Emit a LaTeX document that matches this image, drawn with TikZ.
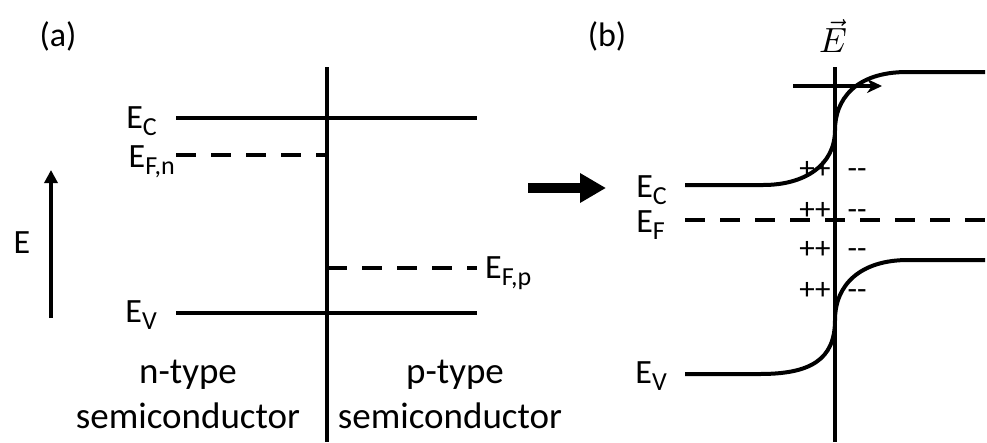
\documentclass[tikz,border=0pt]{standalone}
\usepackage{fontspec}
\setmainfont{Carlito}
\usetikzlibrary{arrows.meta,positioning,calc}
\newcommand{\lowsub}[1]{\raisebox{-0.45ex}{\fontsize{26}{26}\selectfont #1}}

\begin{document}
\begin{tikzpicture}[x=1pt,y=-1pt,
  band/.style={line width=4pt},
  fermi/.style={line width=4pt,dash pattern=on 20pt off 15pt},
  junction/.style={line width=4pt},
  lbl/.style={font=\fontsize{34}{38}\selectfont,inner sep=0pt},
  txt/.style={font=\fontsize{37}{44}\selectfont,inner sep=0pt},
  chg/.style={font=\fontsize{31}{31}\selectfont,inner sep=0pt}]
  \useasboundingbox (0,0) rectangle (987,442);

  % (a) separate n and p
  \node[lbl] (tagA) at (58,36) {(a)};
  \coordinate (jAtop) at (327,67);
  \coordinate (jAbot) at (327,442);
  \draw[junction] (jAtop) -- (jAbot);
  \coordinate (ecAl) at (176,118);
  \coordinate (ecAr) at (477,118);
  \coordinate (evAl) at (176,313);
  \coordinate (evAr) at (477,313);
  \coordinate (efn) at (176,155);
  \coordinate (efp) at (477,268);
  \draw[band] (ecAl) -- (ecAr);
  \draw[band] (evAl) -- (evAr);
  \draw[fermi] (efn) -- (efn -| jAtop);
  \draw[fermi] (efp -| jAtop) -- (efp);
  \node[lbl,anchor=base east] (ecAlbl) at (157,128) {E\lowsub{C}};
  \node[lbl,anchor=base east] (efnlbl) at (175,167) {E\lowsub{F,n}};
  \node[lbl,anchor=base east] (evAlbl) at (157,322) {E\lowsub{V}};
  \node[lbl,anchor=base west] (efplbl) at (485,278) {E\lowsub{F,p}};
  \coordinate (eTail) at (51,318);
  \coordinate (eTip) at (51,170);
  \draw[line width=4pt,-{Triangle[length=13pt,width=13pt]}] (eTail) -- (eTip);
  \node[lbl] (eAxis) at (22,243) {E};
  \node[txt,anchor=base] (ntype) at (188,383) {n-type};
  \node[txt,anchor=base] (nsemi) at (188,428) {semiconductor};
  \node[txt,anchor=base] (ptype) at (455,383) {p-type};
  \node[txt,anchor=base] (psemi) at (450,428) {semiconductor};

  % contact arrow
  \coordinate (goL) at (528,188);
  \coordinate (goR) at (606,188);
  \draw[line width=10pt,-{Triangle[length=26pt,width=28pt]}] (goL) -- (goR);

  % (b) junction in equilibrium
  \node[lbl] (tagB) at (607,36) {(b)};
  \node[inner sep=0pt] (field) at (833,36) {\scalebox{3.5}{$\vec{E}$}};
  \coordinate (jBtop) at (835,67);
  \coordinate (jBbot) at (835,442);
  \draw[junction] (jBtop) -- (jBbot);
  \coordinate (flowL) at (793,86);
  \coordinate (flowR) at (882,86);
  \draw[line width=4pt,-{Stealth[length=15pt,width=14pt]}] (flowL) -- (flowR);
  \draw[band] (685,185) -- (763,185)
    .. controls (805,185) and (835,165) .. (835,130)
    .. controls (835,100) and (855,72) .. (907,72) -- (985,72);
  \draw[band] (685,374) -- (760,374)
    .. controls (810,374) and (835,360) .. (835,320)
    .. controls (835,285) and (860,260) .. (908,260) -- (985,260);
  \coordinate (efBl) at (685,220);
  \coordinate (efBr) at (987,220);
  \draw[fermi] (efBl) -- (efBr);
  \node[lbl,anchor=base east] (ecBlbl) at (667,197) {E\lowsub{C}};
  \node[lbl,anchor=base east] (efBlbl) at (665,232) {E\lowsub{F}};
  \node[lbl,anchor=base east] (evBlbl) at (667,383) {E\lowsub{V}};
  \foreach \yy [count=\i] in {168,209,248,289} {
    \node[chg,anchor=base] (plus\i) at (815,\yy+10) {++};
    \node[chg,anchor=base] (minus\i) at (857,\yy+10) {-{}-};
  }
\end{tikzpicture}
\end{document}
